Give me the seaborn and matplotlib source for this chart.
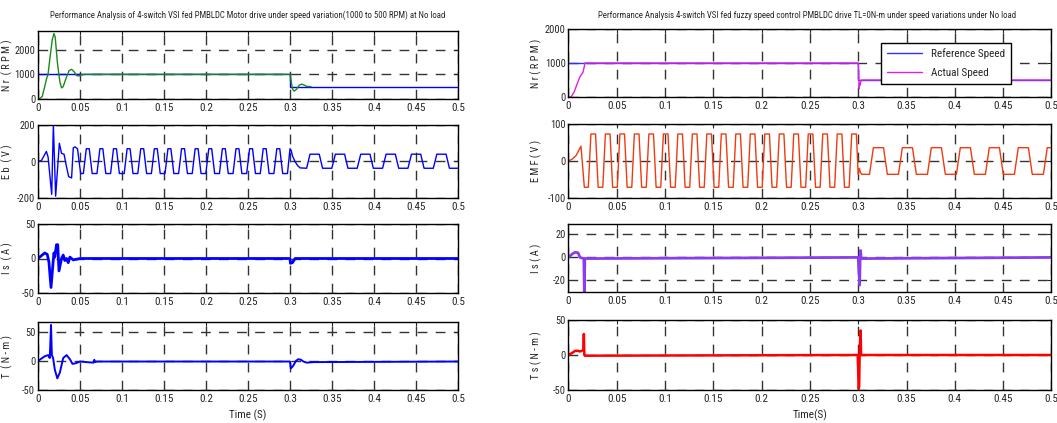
import numpy as np
import matplotlib
matplotlib.use("Agg")
import matplotlib.pyplot as plt
from matplotlib import font_manager as fm
import seaborn as sns

# ========== data ==========
x_ticks = [0, 0.05, 0.1, 0.15, 0.2, 0.25, 0.3, 0.35, 0.4, 0.45, 0.5]
x_tick_labels = ["0", "0.05", "0.1", "0.15", "0.2", "0.25", "0.3", "0.35", "0.4", "0.45", "0.5"]

# --- left column: 4-switch VSI, PI control ---
nr_ref_t = [0, 0.3, 0.3, 0.5]
nr_ref_v = [1000, 1000, 500, 500]
nr_act_t = [0, 0.002, 0.005, 0.008, 0.010, 0.012, 0.014, 0.017, 0.019, 0.0205, 0.023, 0.026,
            0.028, 0.030, 0.033, 0.037, 0.040, 0.043, 0.046, 0.049, 0.052, 0.056, 0.3,
            0.3015, 0.303, 0.305, 0.308, 0.311, 0.314, 0.317, 0.320, 0.325]
nr_act_v = [0, 20, 100, 500, 800, 1000, 1600, 2400, 2650, 2500, 1500, 700,
            450, 500, 800, 1150, 1200, 1100, 950, 930, 980, 1000, 1000,
            700, 400, 320, 400, 560, 600, 560, 510, 500]

eb_t = [0, 0.004, 0.010, 0.012, 0.0163, 0.0183, 0.0210, 0.0254, 0.028, 0.031, 0.034, 0.0365,
        0.040, 0.042, 0.044, 0.047, 0.0508, 0.054,
        0.0575, 0.0610, 0.0645, 0.0702,
        0.0737, 0.0772, 0.0807, 0.0864,
        0.0899, 0.0934, 0.0969, 0.1026,
        0.1061, 0.1096, 0.1131, 0.1188,
        0.1223, 0.1258, 0.1293, 0.1350,
        0.1385, 0.1420, 0.1455, 0.1512,
        0.1547, 0.1582, 0.1617, 0.1674,
        0.1709, 0.1744, 0.1779, 0.1836,
        0.1871, 0.1906, 0.1941, 0.1998,
        0.2033, 0.2068, 0.2103, 0.2160,
        0.2195, 0.2230, 0.2265, 0.2322,
        0.2357, 0.2392, 0.2427, 0.2484,
        0.2519, 0.2554, 0.2589, 0.2646,
        0.2681, 0.2716, 0.2751, 0.2808,
        0.2843, 0.2878, 0.2913, 0.2970,
        0.3000, 0.3015, 0.3030, 0.3060, 0.3090, 0.3120, 0.3198,
        0.3238, 0.3348, 0.3388, 0.3498,
        0.3540, 0.3650, 0.3690, 0.3800,
        0.3842, 0.3952, 0.3992, 0.4102,
        0.4144, 0.4254, 0.4294, 0.4404,
        0.4446, 0.4556, 0.4596, 0.4706,
        0.4748, 0.4858, 0.4898, 0.5000]
eb_v = [0, 5, 55, 25, -180, 200, -190, 100, 45, 40, -30, -83,
        -90, 75, 80, 70, -66, -66,
        70, 70, -66, -66,
        70, 70, -66, -66,
        70, 70, -66, -66,
        70, 70, -66, -66,
        70, 70, -66, -66,
        70, 70, -66, -66,
        70, 70, -66, -66,
        70, 70, -66, -66,
        70, 70, -66, -66,
        70, 70, -66, -66,
        70, 70, -66, -66,
        70, 70, -66, -66,
        70, 70, -66, -66,
        70, 70, -66, -66,
        70, 70, -66, -66,
        70, 60, 30, 0, -22, -35, -37,
        40, 40, -37, -37,
        40, 40, -37, -37,
        40, 40, -37, -37,
        40, 40, -37, -37,
        40, 40, -37, -37,
        40, 40, -37, -37]

is_t = [0, 0.008, 0.011, 0.013, 0.0155, 0.018, 0.019, 0.020, 0.022, 0.0235, 0.025, 0.028,
        0.030, 0.032, 0.034, 0.036, 0.038, 0.042, 0.05, 0.3, 0.3005, 0.303, 0.306, 0.5]
is_v = [0, 8, 6, -5, -42, -5, 8, 2, 20, 20, -18, 0,
        5, -3, 0, -6, 2, -2, 0, 0, -7, -6, 0, 0]

te_t = [0, 0.008, 0.012, 0.014, 0.0155, 0.0165, 0.018, 0.020, 0.023, 0.026, 0.030, 0.034,
        0.038, 0.041, 0.045, 0.05, 0.066, 0.067, 0.068, 0.07, 0.3, 0.301, 0.304, 0.307,
        0.31, 0.313, 0.316, 0.32, 0.328, 0.5]
te_v = [0, 8, 10, 5, 62, 10, 5, -15, -30, -20, 5, 10,
        3, -5, -4, -1, -3, 2, -2, -1, -1, -13, -8, 0,
        3, 2, -1, -3, -2, -1]

# --- right column: fuzzy speed control ---
fz_ref_t = [0, 0.3, 0.3, 0.5]
fz_ref_v = [1000, 1000, 500, 500]
fz_act_t = [0, 0.003, 0.006, 0.009, 0.012, 0.015, 0.0165, 0.017, 0.3, 0.3005, 0.301,
            0.3015, 0.302, 0.303, 0.5]
fz_act_v = [0, 10, 150, 380, 600, 720, 900, 1000, 1000, 600, 250,
            400, 350, 500, 500]

emf_t = [0, 0.004, 0.008, 0.011, 0.013, 0.0165, 0.0206,
         0.0233, 0.0281, 0.0308, 0.0356,
         0.0383, 0.0431, 0.0458, 0.0506,
         0.0533, 0.0581, 0.0608, 0.0656,
         0.0683, 0.0731, 0.0758, 0.0806,
         0.0833, 0.0881, 0.0908, 0.0956,
         0.0983, 0.1031, 0.1058, 0.1106,
         0.1133, 0.1181, 0.1208, 0.1256,
         0.1283, 0.1331, 0.1358, 0.1406,
         0.1433, 0.1481, 0.1508, 0.1556,
         0.1583, 0.1631, 0.1658, 0.1706,
         0.1733, 0.1781, 0.1808, 0.1856,
         0.1883, 0.1931, 0.1958, 0.2006,
         0.2033, 0.2081, 0.2108, 0.2156,
         0.2183, 0.2231, 0.2258, 0.2306,
         0.2333, 0.2381, 0.2408, 0.2456,
         0.2483, 0.2531, 0.2558, 0.2606,
         0.2633, 0.2681, 0.2708, 0.2756,
         0.2783, 0.2831, 0.2858, 0.2906,
         0.2933, 0.2981,
         0.3000, 0.3012, 0.3022, 0.3035, 0.3117,
         0.3157, 0.3262, 0.3302, 0.3417,
         0.3457, 0.3562, 0.3602, 0.3717,
         0.3757, 0.3862, 0.3902, 0.4017,
         0.4057, 0.4162, 0.4202, 0.4317,
         0.4357, 0.4462, 0.4502, 0.4617,
         0.4657, 0.4762, 0.4802, 0.4917,
         0.4957, 0.5000]
emf_v = [0, 5, 15, 30, 40, -71, -71,
         73, 73, -71, -71,
         73, 73, -71, -71,
         73, 73, -71, -71,
         73, 73, -71, -71,
         73, 73, -71, -71,
         73, 73, -71, -71,
         73, 73, -71, -71,
         73, 73, -71, -71,
         73, 73, -71, -71,
         73, 73, -71, -71,
         73, 73, -71, -71,
         73, 73, -71, -71,
         73, 73, -71, -71,
         73, 73, -71, -71,
         73, 73, -71, -71,
         73, 73, -71, -71,
         73, 73, -71, -71,
         73, 73, -71, -71,
         73, 73,
         -36, -20, -30, -36, -36,
         36, 36, -36, -36,
         36, 36, -36, -36,
         36, 36, -36, -36,
         36, 36, -36, -36,
         36, 36, -36, -36,
         36, 36, -36, -36,
         36, 36]

fis_t = [0, 0.004, 0.007, 0.010, 0.012, 0.016, 0.0165, 0.017, 0.3, 0.3015, 0.302, 0.3025,
         0.303, 0.5]
fis_v = [0, 3, 4.5, 4, 0, -1, -30, -1, 0, -24, 0, 6,
         -1, 0]

fts_t = [0, 0.004, 0.007, 0.010, 0.012, 0.0155, 0.016, 0.0165, 0.017, 0.2995, 0.3005,
         0.301, 0.3015, 0.302, 0.3025, 0.303, 0.5]
fts_v = [0, 3, 6, 6, 5, 7, 30, 0, -1, 0, -48,
         -45, 0, 20, 35, 0, 0]

left_title = "Performance Analysis of 4-switch VSI fed PMBLDC Motor drive under speed variation(1000 to 500 RPM) at No load"
right_title = "Performance Analysis 4-switch VSI fed fuzzy speed control PMBLDC drive TL=0N-m under speed variations under No load"


# ========== font: prefer a narrow face (reference uses Arial Narrow) ==========
def pick_narrow():
    names = {f.name for f in fm.fontManager.ttflist}
    for n in ['Liberation Sans Narrow', 'Arial Narrow', 'Roboto Condensed',
              'Open Sans Condensed', 'Noto Sans Condensed']:
        if n in names:
            return n, 'normal'
    for f in fm.fontManager.ttflist:
        if f.stretch == 'condensed' and f.style == 'normal' and f.weight in (400, 'normal', 'regular', 'book'):
            return f.name, 'condensed'
    return 'Liberation Sans', 'normal'


font_name, font_stretch = pick_narrow()

sns.set_style("white")
plt.rcParams['font.family'] = [font_name, 'DejaVu Sans']
plt.rcParams['font.stretch'] = font_stretch
plt.rcParams['font.size'] = 8

W, H = 1057, 423
fig = plt.figure(figsize=(W / 100, H / 100), dpi=100)


def make_ax(x0, x1, top, bottom):
    return fig.add_axes([x0 / W, 1 - bottom / H, (x1 - x0) / W, (bottom - top) / H])


def style_ax(ax, ylim, yticks, ylabel, label_x):
    ax.set_xlim(0, 0.5)
    ax.set_ylim(*ylim)
    ax.set_xticks(x_ticks)
    ax.set_xticklabels(x_tick_labels)
    ax.set_yticks(yticks)
    ax.set_yticklabels([str(v) for v in yticks])
    ax.set_xlabel('')
    ax.set_ylabel(ylabel, fontsize=7.5)
    ax.yaxis.set_label_coords(label_x, 0.5)
    ax.grid(True, linestyle=(0, (7, 6)), color='#333333', linewidth=1.0)
    ax.set_axisbelow(True)
    ax.tick_params(direction='in', length=3, top=True, right=True, labelsize=8, pad=3)
    ax.tick_params(axis='y', labelsize=7.5, pad=2)
    for s in ax.spines.values():
        s.set_color('black')
        s.set_linewidth(1.0)


def line(ax, t, v, color, lw=1.0, label=None):
    sns.lineplot(x=t, y=v, ax=ax, color=color, linewidth=lw, estimator=None, sort=False,
                 label=label, legend=False)


lx0, lx1 = 38, 458
rx0, rx1 = 568.4, 1051.4
llab = -25 / (lx1 - lx0)
rlab = -26 / (rx1 - rx0)

# left column
ax = make_ax(lx0, lx1, 31, 99)
line(ax, nr_ref_t, nr_ref_v, '#0000ff')
line(ax, nr_act_t, nr_act_v, '#1a8a1a')
style_ax(ax, (0, 2750), [0, 1000, 2000], 'N r  ( R P M )', llab)

ax = make_ax(lx0, lx1, 125, 198)
line(ax, eb_t, eb_v, '#0000ff')
style_ax(ax, (-200, 200), [-200, 0, 200], 'E b  ( V )', llab)

ax = make_ax(lx0, lx1, 224, 293)
line(ax, is_t, is_v, '#0000ff', lw=2.0)
style_ax(ax, (-50, 50), [-50, 0, 50], 'I s  ( A )', llab)

ax = make_ax(lx0, lx1, 322, 390)
line(ax, te_t, te_v, '#0000ff', lw=1.4)
style_ax(ax, (-50, 67), [-50, 0, 50], 'T  ( N - m )', llab)
ax.set_xlabel('Time (S)', fontsize=8, labelpad=4)

# right column
ax = make_ax(rx0, rx1, 29, 97)
line(ax, fz_ref_t, fz_ref_v, '#3030ff', label='Reference Speed')
line(ax, fz_act_t, fz_act_v, '#e020e0', label='Actual Speed')
style_ax(ax, (0, 2000), [0, 1000, 2000], 'N r ( R P M )', rlab)
leg = ax.legend(loc='upper right', bbox_to_anchor=(0.928, 0.88), fontsize=8, frameon=True,
                fancybox=False, edgecolor='black', framealpha=1, borderpad=0.5,
                handlelength=3.2, labelspacing=0.8)
leg.get_frame().set_linewidth(1.0)

ax = make_ax(rx0, rx1, 124, 198)
line(ax, emf_t, emf_v, '#f03a10')
style_ax(ax, (-100, 100), [-100, 0, 100], 'E M F ( V )', rlab)

ax = make_ax(rx0, rx1, 224, 292)
line(ax, fis_t, fis_v, '#8a3cf0', lw=2.0)
style_ax(ax, (-30, 29), [-20, 0, 20], 'I s ( A )', rlab)

ax = make_ax(rx0, rx1, 320, 390)
line(ax, fts_t, fts_v, '#ff0000', lw=1.8)
style_ax(ax, (-50, 50), [-50, 0, 50], 'T s ( N - m )', rlab)
ax.set_xlabel('Time(S)', fontsize=8, labelpad=4)

t1 = fig.text((lx0 + lx1) / 2 / W, 1 - 15 / H, left_title, ha='center', va='center', fontsize=8)
t2 = fig.text((rx0 + 1045) / 2 / W, 1 - 15 / H, right_title, ha='center', va='center', fontsize=8)

# shrink the titles if the available face is wider than the reference's
fig.canvas.draw()
r = fig.canvas.get_renderer()
k = min(396 / t1.get_window_extent(r).width, 476 / t2.get_window_extent(r).width, 1.0)
t1.set_fontsize(8 * k)
t2.set_fontsize(8 * k)

fig.savefig('out.png', dpi=100)
